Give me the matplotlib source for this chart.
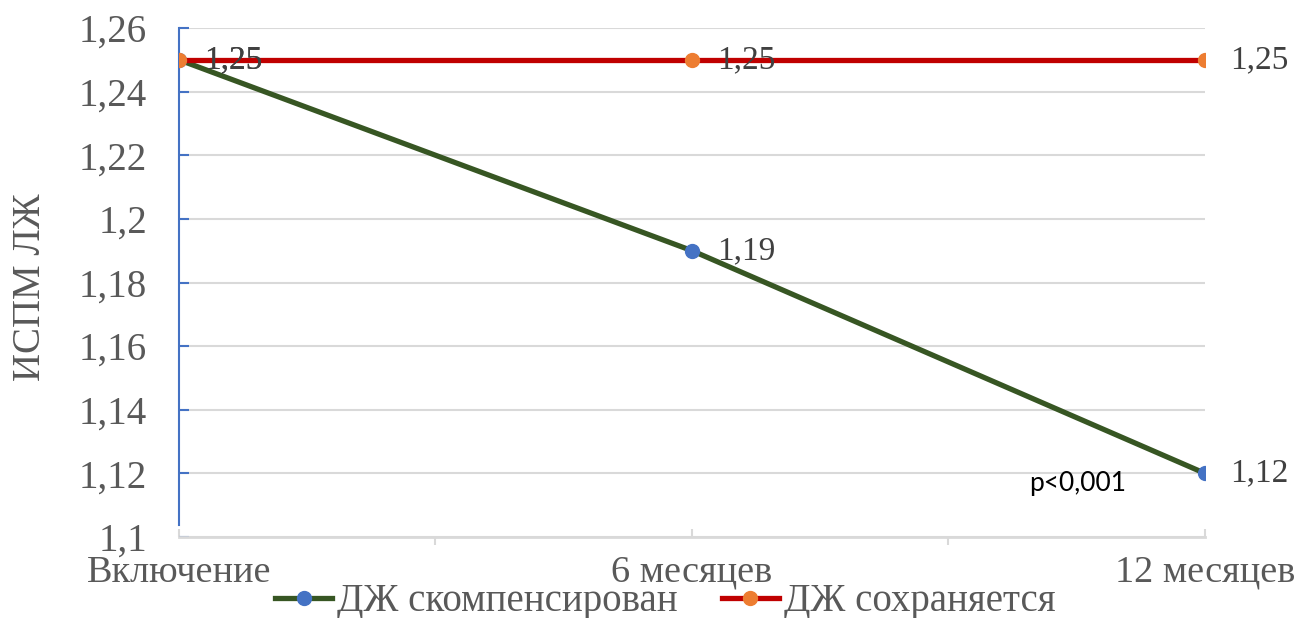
import numpy as np
import matplotlib
matplotlib.use("Agg")
import matplotlib.pyplot as plt
from matplotlib.ticker import FixedLocator, FuncFormatter

# ИСПМ ЛЖ по группам
periods = ["Включение", "6 месяцев", "12 месяцев"]
compensated = [1.25, 1.19, 1.12]
persists = [1.25, 1.25, 1.25]
series_names = ["ДЖ скомпенсирован", "ДЖ сохраняется"]
y_ticks = [1.1, 1.12, 1.14, 1.16, 1.18, 1.2, 1.22, 1.24, 1.26]
p_text = "p<0,001"

plt.rcParams['font.family'] = ['Liberation Serif', 'DejaVu Serif']
txt_gray = '#595959'
lbl_gray = '#404040'

fig = plt.figure(figsize=(13.07, 6.18), dpi=100)
ax = fig.add_axes([179/1307, 1-537/618, (1205-179)/1307, (537-28)/618])

x = np.arange(len(periods))
l1, = ax.plot(x, compensated, color='#375623', lw=3.8, marker='o', ms=10,
              mfc='#4472C4', mec='#4472C4', zorder=3, label=series_names[0])
l2, = ax.plot(x, persists, color='#C00000', lw=3.8, marker='o', ms=10,
              mfc='#ED7D31', mec='#ED7D31', zorder=4, label=series_names[1])

# подписи значений справа от точек
for xs, ys in [(x, compensated), (x, persists)]:
    for xi, yi in zip(xs, ys):
        ax.annotate(f"{yi:.2f}".replace('.', ','), (xi, yi), xytext=(18, 0),
                    textcoords='offset points', ha='left', va='center',
                    fontsize=24, color=lbl_gray, zorder=5)

ax.text(1.752, 1.1167, p_text, ha='center', va='center', fontsize=19,
        family=['Lato', 'DejaVu Sans'], color='black')

ax.set_xlim(0, 2)
ax.set_ylim(1.1, 1.26)
ax.yaxis.set_major_locator(FixedLocator(y_ticks))
ax.yaxis.set_major_formatter(FuncFormatter(lambda v, p: f"{v:.2f}".rstrip('0').replace('.', ',')))
ax.set_xticks(x)
ax.set_xticklabels(periods)
ax.set_xticks([0.5, 1.5], minor=True)

ax.grid(axis='y', color='#D9D9D9', lw=1.5)
ax.set_axisbelow(True)
for s in ['top', 'right']:
    ax.spines[s].set_visible(False)
ax.spines['left'].set_color('#4472C4')
ax.spines['left'].set_linewidth(1.5)
ax.spines['left'].set_bounds(1.1037, 1.26)
ax.spines['bottom'].set_color('#D9D9D9')
ax.spines['bottom'].set_linewidth(2)

ax.tick_params(axis='y', direction='in', length=7, width=1.5, color='#4472C4',
               labelsize=28, labelcolor=txt_gray, pad=23)
ax.tick_params(axis='x', which='major', direction='in', length=6, width=1.5,
               color='#D9D9D9', labelsize=27.5, labelcolor=txt_gray, pad=13)
ax.tick_params(axis='x', which='minor', direction='out', length=6, width=1.5,
               color='#D9D9D9')

ax.set_ylabel("ИСПМ ЛЖ", fontsize=28, color=txt_gray)
ax.yaxis.set_label_coords(-0.127, 0.49)

fig.legend(handles=[l1, l2], loc='center', bbox_to_anchor=(0.509, 0.026), ncol=2,
           frameon=False, fontsize=28, labelcolor=txt_gray, handlelength=1.47,
           handletextpad=0.13, columnspacing=1.13, borderpad=0)

fig.savefig("out.png", dpi=100)
